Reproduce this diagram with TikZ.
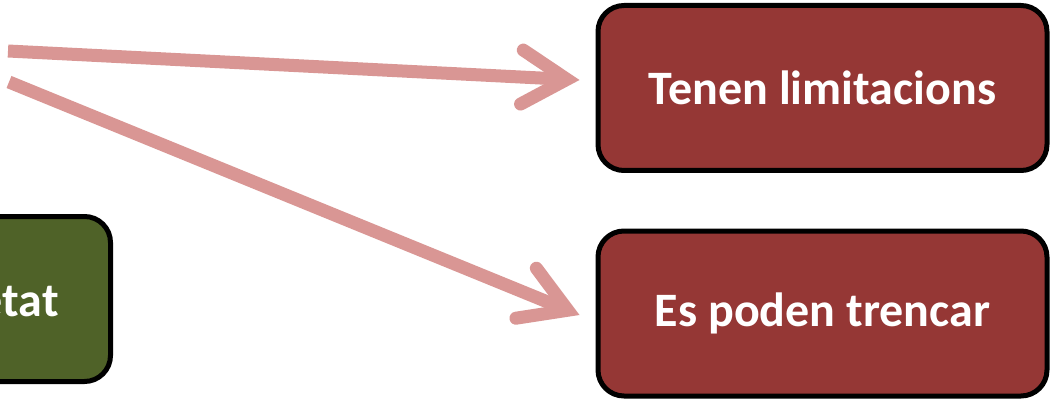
\documentclass[tikz,border=0pt]{standalone}
\usepackage{fontspec}
\setmainfont{Carlito}
\usetikzlibrary{arrows.meta,calc}
\definecolor{boxred}{HTML}{953735}
\definecolor{boxgreen}{HTML}{4F6228}
\definecolor{arrowpink}{HTML}{D99694}
\tikzset{
  redbox/.style={draw=black, line width=5pt, fill=boxred, rounded corners=26pt,
    minimum width=449pt, minimum height=165pt, inner sep=0pt,
    text=white, font=\fontsize{48}{54}\selectfont\bfseries},
  greenbox/.style={draw=black, line width=5pt, fill=boxgreen, rounded corners=26pt,
    minimum width=449pt, minimum height=165pt, inner sep=0pt},
  lbl/.style={text=white, font=\fontsize{48}{54}\selectfont\bfseries, inner sep=0pt},
  conn/.style={draw=arrowpink, line width=13pt,
    -{Straight Barb[line cap=round, length=45pt, width=54pt]}}
}
\begin{document}
\begin{tikzpicture}[x=1pt,y=-1pt]
\useasboundingbox (0,0) rectangle (1050,401);
\node[redbox] (r1) at (822.5,88) {Tenen limitacions};
\node[redbox] (r2) at (822.5,313.5) {Es poden trencar};
\node[greenbox, anchor=east] (g) at (113,299) {};
\node[lbl, anchor=base east] (gl) at (59,316) {etat};
\coordinate (s1) at (8,51);
\coordinate (s2) at (9,82);
\coordinate (t1) at ($(r1.west)+(-16,-8)$);
\coordinate (t2) at ($(r2.west)+(-16,1.5)$);
\draw[conn] (s1) -- (t1);
\draw[conn] (s2) -- (t2);
\end{tikzpicture}
\end{document}
